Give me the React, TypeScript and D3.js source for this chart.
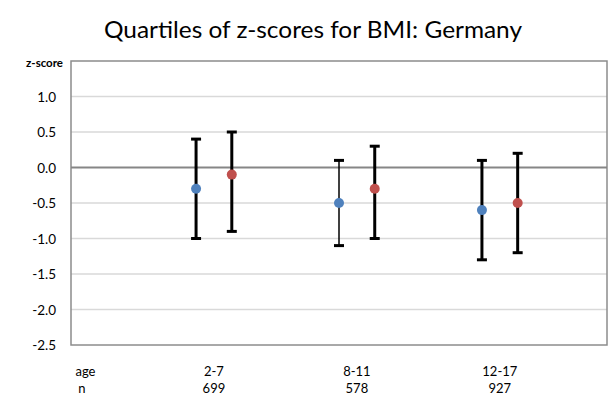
import React from "react";
import * as d3 from "d3";

const categories = ["2-7", "8-11", "12-17"];
const counts = ["699", "578", "927"];
const yTicks = [1.0, 0.5, 0.0, -0.5, -1.0, -1.5, -2.0, -2.5];

const blueMedian = [-0.3, -0.5, -0.6];
const blueQ1 = [-1.0, -1.1, -1.3];
const blueQ3 = [0.4, 0.1, 0.1];

const redMedian = [-0.1, -0.3, -0.5];
const redQ1 = [-0.9, -1.0, -1.2];
const redQ3 = [0.5, 0.3, 0.2];

const W = 612;
const H = 405;
const M = { left: 71, right: 607, top: 61, bottom: 345 };
const FONT = "Lato, 'Open Sans', sans-serif";

const series = [
  { name: "a", median: blueMedian, q1: blueQ1, q3: blueQ3, color: "#4F81BD", offset: -0.125, thin: [false, true, false] },
  { name: "b", median: redMedian, q1: redQ1, q3: redQ3, color: "#C0504D", offset: 0.125, thin: [false, false, false] },
];

const fmt = (t: number) => d3.format(".1f")(t).replace("\u2212", "-");

export default function App() {
  const x = d3.scaleLinear().domain([0, 3.75]).range([M.left, M.right]);
  const y = d3.scaleLinear().domain([-2.5, 1.5]).range([M.bottom, M.top]);

  return (
    <svg width={W} height={H} style={{ position: "absolute", left: 0, top: 0, background: "#fff" }}>
      <rect x={0} y={0} width={W} height={H} fill="#fff" />
      <text x={104} y={38} fontFamily={FONT} fontSize={23} textLength={418} lengthAdjust="spacingAndGlyphs" fill="#000">
        Quartiles of z-scores for BMI: Germany
      </text>
      {/* gridlines */}
      {yTicks.filter((t) => t !== 0 && t !== -2.5).map((t) => (
        <line key={t} x1={M.left} x2={M.right} y1={y(t)} y2={y(t)} stroke="#D9D9D9" strokeWidth={1.3} />
      ))}
      {/* border */}
      <rect x={M.left} y={M.top} width={M.right - M.left} height={M.bottom - M.top} fill="none" stroke="#8C8C8C" strokeWidth={1.5} />
      {/* zero line */}
      <line x1={M.left} x2={M.right} y1={y(0)} y2={y(0)} stroke="#868686" strokeWidth={2} />
      {/* y ticks */}
      {yTicks.map((t) => (
        <text key={t} x={56} y={y(t) + 5} textAnchor="end" fontFamily={FONT} fontSize={13.5} fill="#000">
          {fmt(t)}
        </text>
      ))}
      <text x={63} y={67} textAnchor="end" fontFamily={FONT} fontSize={11.5} fontWeight="bold" fill="#000">
        z-score
      </text>
      {/* error bars and points */}
      {series.map((s) =>
        categories.map((c, i) => {
          const cx = x(i + 1 + s.offset);
          const sw = s.thin[i] ? 1.5 : 3;
          return (
            <g key={s.name + c}>
              <line x1={cx} x2={cx} y1={y(s.q3[i])} y2={y(s.q1[i])} stroke="#000" strokeWidth={sw} />
              <line x1={cx - 5} x2={cx + 5} y1={y(s.q3[i])} y2={y(s.q3[i])} stroke="#000" strokeWidth={3} />
              <line x1={cx - 5} x2={cx + 5} y1={y(s.q1[i])} y2={y(s.q1[i])} stroke="#000" strokeWidth={3} />
              <circle cx={cx} cy={y(s.median[i])} r={5} fill={s.color} />
            </g>
          );
        })
      )}
      {/* bottom labels */}
      <text x={85.5} y={376} textAnchor="middle" fontFamily={FONT} fontSize={13} fill="#000">age</text>
      <text x={82} y={393} textAnchor="middle" fontFamily={FONT} fontSize={13} fill="#000">n</text>
      {categories.map((c, i) => (
        <g key={c}>
          <text x={x(i + 1)} y={376} textAnchor="middle" fontFamily={FONT} fontSize={13} fill="#000">{c}</text>
          <text x={x(i + 1)} y={393} textAnchor="middle" fontFamily={FONT} fontSize={13} fill="#000">{counts[i]}</text>
        </g>
      ))}
    </svg>
  );
}
